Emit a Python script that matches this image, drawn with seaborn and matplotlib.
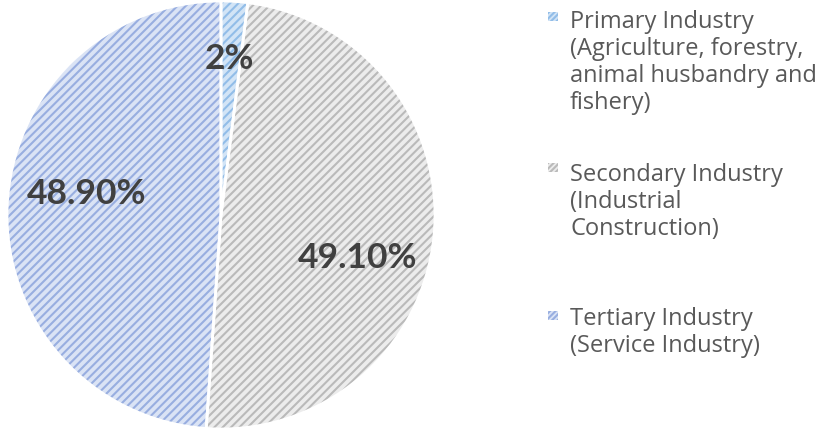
import matplotlib
matplotlib.use("Agg")
import matplotlib.pyplot as plt
from matplotlib.patches import Rectangle
import seaborn as sns

sns.set_theme(style="white")
plt.rcParams["font.family"] = ["Open Sans", "DejaVu Sans"]
plt.rcParams["hatch.linewidth"] = 1.5

categories = [
    "Primary Industry\n(Agriculture, forestry,\nanimal husbandry and\nfishery)",
    "Secondary Industry\n(Industrial\nConstruction)",
    "Tertiary Industry\n(Service Industry)",
]
values = [2.0, 49.1, 48.9]
value_labels = ["2%", "49.10%", "48.90%"]

face_colors = ["#d2e4f6", "#ececec", "#dae3f5"]
hatch_colors = ["#92bde8", "#bababa", "#98aee0"]

W, H = 827, 430
fig = plt.figure(figsize=(W / 100, H / 100), dpi=100)
cx, cy, r = 221, 215, 214
ax = fig.add_axes([(cx - r) / W, (H - cy - r) / H, 2 * r / W, 2 * r / H])

wedges, _ = ax.pie(values, startangle=90, counterclock=False, colors=face_colors,
                   radius=1, wedgeprops=dict(linewidth=0))
for w, hc in zip(wedges, hatch_colors):
    w.set_edgecolor(hc)
    w.set_linewidth(0)
    w.set_hatch("////")
# white separators
ax.pie(values, startangle=90, counterclock=False, radius=1,
       wedgeprops=dict(fill=False, edgecolor="white", linewidth=2))
ax.set_xlim(-1, 1)
ax.set_ylim(-1, 1)

label_pos = [(0.04, 0.73), (0.64, -0.20), (-0.63, 0.10)]
for (x, y), t in zip(label_pos, value_labels):
    ax.text(x, y, t, ha="center", va="center", fontsize=25.5, fontweight="bold",
            color="#404040", family=["Lato", "DejaVu Sans"])

# legend (baseline of the last line of each entry)
last_baselines = [109, 235, 352]
mark_y = [16.5, 167.5, 315]
for lab, fc, hc, by, my in zip(categories, face_colors, hatch_colors, last_baselines, mark_y):
    fig.text(570 / W, 1 - by / H, lab, ha="left", va="baseline", fontsize=17,
             color="#595959", linespacing=1.17)
    rect = Rectangle((548 / W, 1 - (my + 4.5) / H), 10 / W, 9 / H,
                     transform=fig.transFigure, facecolor=fc, edgecolor=hc,
                     hatch="//////", linewidth=0)
    fig.patches.append(rect)

fig.savefig("out.png", dpi=100, facecolor="white")
